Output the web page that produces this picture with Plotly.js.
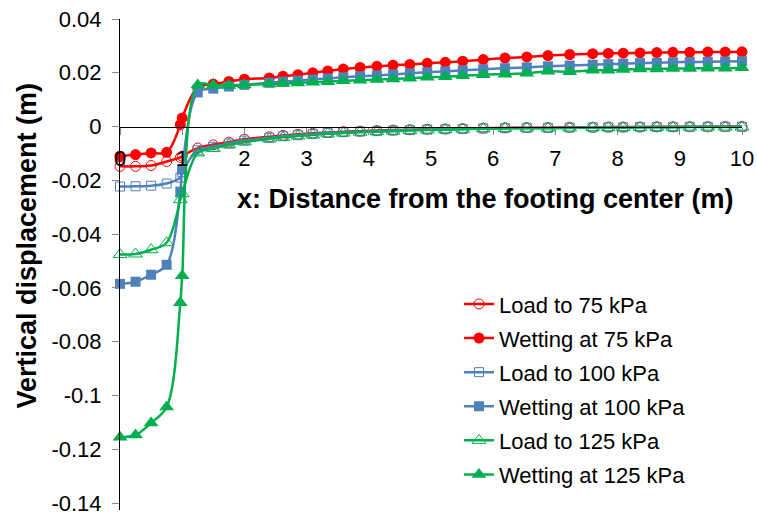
<!DOCTYPE html>
<html>
<head>
<meta charset="utf-8">
<script src="https://cdn.plot.ly/plotly-3.0.1.min.js"></script>
<style>
  html, body { margin: 0; padding: 0; background: #ffffff; }
  #chart { width: 757px; height: 515px; }
</style>
</head>
<body>
<div id="chart"></div>
<script>
// Distance from the footing center (m), shared by every profile
const xDist = [0, 0.25, 0.5, 0.75, 0.97, 1.0, 1.25, 1.5, 1.75, 2.0, 2.4, 2.62, 2.86, 3.1, 3.34, 3.59,
  3.86, 4.13, 4.39, 4.66, 4.94, 5.23, 5.51, 5.84, 6.19, 6.54, 6.88, 7.23, 7.6, 7.85, 8.09, 8.36,
  8.63, 8.89, 9.16, 9.45, 9.73, 10];

// Vertical displacement (m) for each stage
const load75 = [-0.0148, -0.0148, -0.0145, -0.0130, -0.0115, -0.0110, -0.0080, -0.0068, -0.0058, -0.0047,
  -0.0038, -0.0033, -0.0029, -0.0025, -0.0022, -0.0019, -0.0017, -0.0015, -0.0013, -0.0012, -0.0010,
  -0.0009, -0.0008, -0.0006, -0.0005, -0.0004, -0.0004, -0.0003, -0.0003, -0.0002, -0.0002, -0.0002,
  -0.0001, -0.0001, -0.0001, -0.0001, 0, 0];
const wet75 = [-0.0110, -0.0104, -0.0098, -0.0096, 0.0007, 0.0032, 0.0145, 0.0158, 0.0168, 0.0176,
  0.0181, 0.0187, 0.0193, 0.0200, 0.0207, 0.0214, 0.0220, 0.0224, 0.0228, 0.0231, 0.0235,
  0.0239, 0.0243, 0.0249, 0.0255, 0.0259, 0.0264, 0.0268, 0.0271, 0.0272, 0.0273, 0.0274,
  0.0275, 0.0276, 0.0276, 0.0277, 0.0277, 0.0278];
const load100 = [-0.0223, -0.0222, -0.0220, -0.0212, -0.0190, -0.0170, -0.0088, -0.0075, -0.0063, -0.0052,
  -0.0042, -0.0036, -0.0032, -0.0028, -0.0024, -0.0021, -0.0019, -0.0017, -0.0015, -0.0013, -0.0011,
  -0.0010, -0.0009, -0.0007, -0.0006, -0.0005, -0.0005, -0.0004, -0.0003, -0.0003, -0.0003, -0.0002,
  -0.0002, -0.0002, -0.0001, -0.0001, -0.0001, -0.0001];
const wet100 = [-0.0585, -0.0577, -0.0551, -0.0514, -0.0242, -0.0160, 0.0127, 0.0141, 0.0149, 0.0155,
  0.0163, 0.0167, 0.0171, 0.0175, 0.0179, 0.0183, 0.0187, 0.0190, 0.0194, 0.0198, 0.0202,
  0.0205, 0.0209, 0.0213, 0.0217, 0.0220, 0.0224, 0.0227, 0.0230, 0.0232, 0.0234, 0.0236,
  0.0237, 0.0239, 0.0240, 0.0241, 0.0242, 0.0243];
const load125 = [-0.0476, -0.0474, -0.0458, -0.0432, -0.0272, -0.0250, -0.0098, -0.0082, -0.0068, -0.0057,
  -0.0046, -0.0040, -0.0035, -0.0031, -0.0027, -0.0024, -0.0021, -0.0019, -0.0017, -0.0015, -0.0013,
  -0.0012, -0.0010, -0.0008, -0.0007, -0.0006, -0.0006, -0.0005, -0.0004, -0.0004, -0.0004, -0.0003,
  -0.0003, -0.0003, -0.0002, -0.0002, -0.0002, -0.0002];
const wet125 = [-0.1155, -0.1147, -0.1102, -0.1043, -0.0655, -0.0555, 0.0155, 0.0154, 0.0153, 0.0155,
  0.0158, 0.0160, 0.0162, 0.0165, 0.0167, 0.0170, 0.0172, 0.0175, 0.0177, 0.0180, 0.0183,
  0.0185, 0.0189, 0.0193, 0.0195, 0.0198, 0.0206, 0.0204, 0.0209, 0.0209, 0.0212, 0.0214,
  0.0214, 0.0216, 0.0216, 0.0217, 0.0217, 0.0219];

const seriesNames = ['Load to 75 kPa', 'Wetting at 75 kPa', 'Load to 100 kPa',
  'Wetting at 100 kPa', 'Load to 125 kPa', 'Wetting at 125 kPa'];

const yTickVals = [0.04, 0.02, 0, -0.02, -0.04, -0.06, -0.08, -0.1, -0.12, -0.14];
const yTickText = ['0.04', '0.02', '0', '-0.02', '-0.04', '-0.06', '-0.08', '-0.1', '-0.12', '-0.14'];
const xTickVals = [0, 1, 2, 3, 4, 5, 6, 7, 8, 9, 10];

const xTitle = 'x: Distance from the footing center (m)';
const yTitle = 'Vertical displacement (m)';

const RED = '#FF0000', BLUE = '#4F81BD', GREEN = '#00B050';
const FONT = 'Liberation Sans, Arial, sans-serif';

const markerSize = { 'circle': 11, 'square': 10, 'triangle-up': 13 };

function profile(name, y, color, symbol, open, group) {
  return {
    type: 'scatter',
    mode: 'lines+markers',
    name: name,
    legendgroup: group,
    x: xDist,
    y: y,
    line: { color: color, width: 2.5, shape: 'spline', smoothing: 1 },
    marker: open
      ? { symbol: symbol + '-open', size: markerSize[symbol] - 1, color: color, line: { color: color, width: 1 } }
      : { symbol: symbol, size: markerSize[symbol], color: color, line: { width: 0 } },
    cliponaxis: false
  };
}

const traces = [
  profile(seriesNames[0], load75, RED, 'circle', true, 'a'),
  profile(seriesNames[1], wet75, RED, 'circle', false, 'b'),
  profile(seriesNames[2], load100, BLUE, 'square', true, 'c'),
  profile(seriesNames[3], wet100, BLUE, 'square', false, 'd'),
  profile(seriesNames[4], load125, GREEN, 'triangle-up', true, 'e'),
  profile(seriesNames[5], wet125, GREEN, 'triangle-up', false, 'f')
];

// vertical axis runs a little past -0.14 so its line reaches the foot of the chart
const yMin = -0.1426, yMax = 0.04;

const layout = {
  width: 757,
  height: 515,
  margin: { l: 120, r: 15, t: 19, b: 5 },
  paper_bgcolor: '#ffffff',
  plot_bgcolor: '#ffffff',
  font: { family: FONT, size: 22, color: '#000000' },
  showlegend: true,
  legend: {
    x: 0.545, y: 0.462, xanchor: 'left', yanchor: 'top',
    font: { family: FONT, size: 22, color: '#000000' },
    bgcolor: 'rgba(0,0,0,0)',
    tracegroupgap: 2.5,
    itemwidth: 30
  },
  xaxis: {
    range: [0, 10],
    tickvals: xTickVals,
    anchor: 'free',
    position: (0 - yMin) / (yMax - yMin),
    showgrid: false,
    zeroline: false,
    showline: true,
    linecolor: '#000000',
    linewidth: 1,
    ticks: 'outside',
    ticklen: 7,
    tickcolor: '#868686',
    tickfont: { family: FONT, size: 22, color: '#000000' },
    ticklabelstandoff: 5,
    ticklabeloverflow: 'allow'
  },
  yaxis: {
    range: [yMin, yMax + 1e-6],
    tickvals: yTickVals,
    ticktext: yTickText,
    showgrid: false,
    zeroline: false,
    showline: true,
    linecolor: '#000000',
    linewidth: 1,
    ticks: 'outside',
    ticklen: 7,
    tickcolor: '#868686',
    tickfont: { family: FONT, size: 22, color: '#000000' },
    ticklabelstandoff: 6,
    ticklabeloverflow: 'allow'
  },
  annotations: [
    {
      text: '<b>' + xTitle + '</b>',
      xref: 'paper', yref: 'paper',
      x: 0.587, y: 0.6334,
      xanchor: 'center', yanchor: 'middle',
      showarrow: false,
      font: { family: FONT, size: 27, color: '#000000' }
    },
    {
      text: '<b>' + yTitle + '</b>',
      xref: 'paper', yref: 'paper',
      x: -0.15, y: 0.538,
      xanchor: 'center', yanchor: 'middle',
      textangle: -90,
      showarrow: false,
      font: { family: FONT, size: 27, color: '#000000' }
    }
  ]
};

Plotly.newPlot('chart', traces, layout, { displayModeBar: false, staticPlot: true });
</script>
</body>
</html>
